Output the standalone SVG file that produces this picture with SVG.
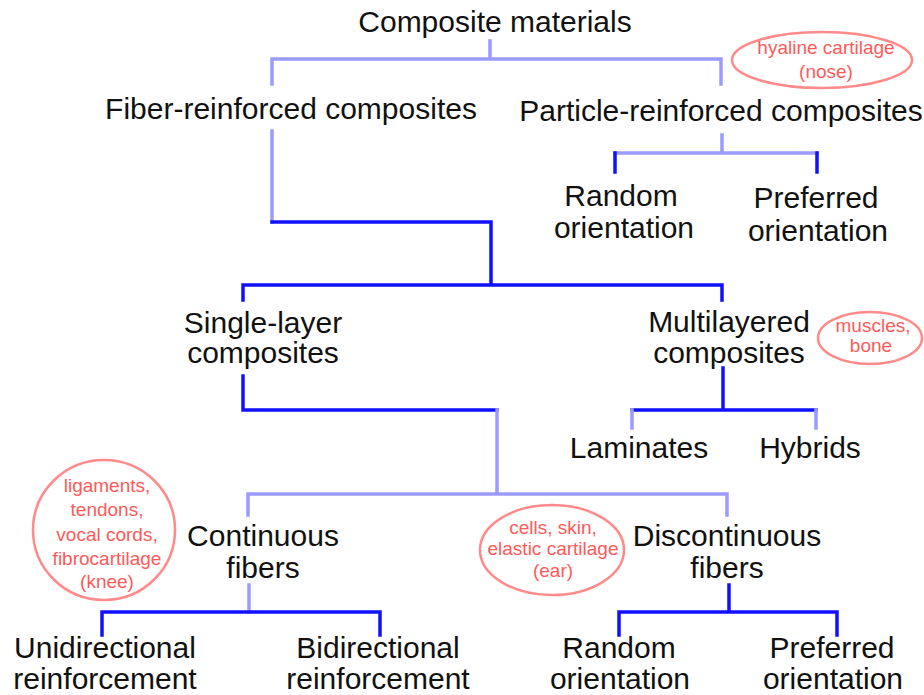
<svg xmlns="http://www.w3.org/2000/svg" width="924" height="695" viewBox="0 0 924 695">
<style>
.t{font-family:"Liberation Sans",Arial,sans-serif;font-size:30px;fill:#111;text-anchor:middle}
.r{font-family:"Liberation Sans",Arial,sans-serif;font-size:19px;fill:#ff5a5a;text-anchor:middle}
.e{fill:none;stroke:#ff8a8a;stroke-width:2.5}
.d{fill:none;stroke:#1010ff;stroke-width:3.5;stroke-linecap:square}
.l{fill:none;stroke:#9a9aff;stroke-width:3.5;stroke-linecap:square}
</style>
<rect width="924" height="695" fill="#fff"/>
<g id="connectors">
<path class="l" d="M490,41V59M272,84V59H721V84"/>
<path class="l" d="M722,135V153M615,153H817"/>
<path class="d" d="M615,172V153M817,172V153"/>
<path class="l" d="M272,131V222"/>
<path class="d" d="M272,222H491V285M243,300V285H722V300"/>
<path class="d" d="M243,376V410H497"/>
<path class="l" d="M497,410V494M248,515V494H727V515"/>
<path class="d" d="M723,368V410M632,410H816"/>
<path class="l" d="M632,410V428M816,410V428"/>
<path class="l" d="M249,585V612"/>
<path class="d" d="M102,635V612H380V635"/>
<path class="d" d="M729,585V612M619,635V612H837V635"/>
</g>
<g id="n-composite"><text class="t" x="495" y="32">Composite materials</text></g>
<g id="n-fiber"><text class="t" x="291" y="119">Fiber-reinforced composites</text></g>
<g id="n-particle"><text class="t" x="721" y="121">Particle-reinforced composites</text></g>
<g id="n-random1"><text class="t" x="621" y="206">Random</text><text class="t" x="624" y="238">orientation</text></g>
<g id="n-preferred1"><text class="t" x="816" y="208">Preferred</text><text class="t" x="818" y="241">orientation</text></g>
<g id="n-single"><text class="t" x="263" y="333">Single-layer</text><text class="t" x="263" y="363">composites</text></g>
<g id="n-multi"><text class="t" x="729" y="332">Multilayered</text><text class="t" x="729" y="363">composites</text></g>
<g id="n-laminates"><text class="t" x="639" y="458">Laminates</text></g>
<g id="n-hybrids"><text class="t" x="810" y="458">Hybrids</text></g>
<g id="n-continuous"><text class="t" x="263" y="546">Continuous</text><text class="t" x="263" y="578">fibers</text></g>
<g id="n-discontinuous"><text class="t" x="727" y="546">Discontinuous</text><text class="t" x="727" y="578">fibers</text></g>
<g id="n-uni"><text class="t" x="105" y="658">Unidirectional</text><text class="t" x="105" y="689">reinforcement</text></g>
<g id="n-bi"><text class="t" x="378" y="658">Bidirectional</text><text class="t" x="378" y="689">reinforcement</text></g>
<g id="n-random2"><text class="t" x="619" y="658">Random</text><text class="t" x="620" y="689">orientation</text></g>
<g id="n-preferred2"><text class="t" x="832" y="658">Preferred</text><text class="t" x="833" y="689">orientation</text></g>
<g id="note-hyaline"><ellipse class="e" cx="822" cy="60" rx="90" ry="28"/><text class="r" x="826" y="54">hyaline cartilage</text><text class="r" x="826" y="78">(nose)</text></g>
<g id="note-muscles"><ellipse class="e" cx="870" cy="338" rx="52" ry="26"/><text class="r" x="873" y="332">muscles,</text><text class="r" x="871" y="352">bone</text></g>
<g id="note-ligaments"><ellipse class="e" cx="104" cy="530" rx="71" ry="70"/><text class="r" x="107" y="492">ligaments,</text><text class="r" x="107" y="516">tendons,</text><text class="r" x="107" y="541">vocal cords,</text><text class="r" x="107" y="565">fibrocartilage</text><text class="r" x="107" y="588">(knee)</text></g>
<g id="note-cells"><ellipse class="e" cx="552" cy="550" rx="72" ry="45"/><text class="r" x="553" y="534">cells, skin,</text><text class="r" x="553" y="555">elastic cartilage</text><text class="r" x="553" y="577">(ear)</text></g>
</svg>
